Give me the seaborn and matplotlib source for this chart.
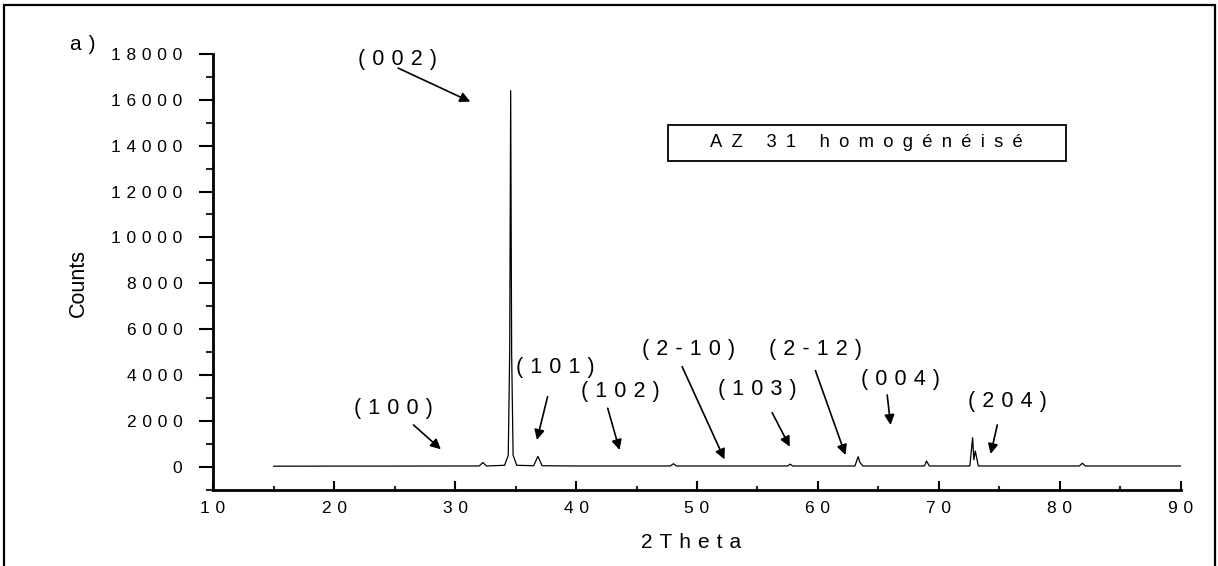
import numpy as np
import pandas as pd
import matplotlib
matplotlib.use("Agg")
import matplotlib.pyplot as plt
from matplotlib.patches import Rectangle
from matplotlib.ticker import FuncFormatter, MultipleLocator
import seaborn as sns

# ---- data ----
two_theta = [15.0, 20.0, 25.0, 30.0, 32.0, 32.3, 32.6,
             34.1, 34.4, 34.52, 34.6, 34.68, 34.8, 35.1,
             36.5, 36.85, 37.2, 40.0, 47.8, 48.05, 48.3,
             55.0, 57.5, 57.7, 57.9, 63.05, 63.32, 63.45, 63.7,
             68.8, 68.97, 69.2, 72.55, 72.78, 72.88, 73.0, 73.25,
             81.6, 81.85, 82.1, 90.0]
counts = [20, 25, 25, 30, 30, 180, 30,
          60, 500, 5000, 16400, 5000, 500, 60,
          40, 450, 40, 30, 30, 130, 30,
          30, 30, 110, 30, 30, 436, 200, 30,
          30, 250, 30, 30, 1265, 300, 685, 30,
          30, 150, 30, 30]

peak_labels = ["(002)", "(100)", "(101)", "(102)", "(2-10)",
               "(103)", "(2-12)", "(004)", "(204)"]

x_ticks = [10, 20, 30, 40, 50, 60, 70, 80, 90]
y_ticks = [0, 2000, 4000, 6000, 8000, 10000, 12000, 14000, 16000, 18000]

x_label = "2Theta"
y_label = "Counts"
box_text = "AZ 31 homogénéisé"
panel_text = "a)"

# ---- styling ----
sns.set_theme(style="ticks")
plt.rcParams["font.family"] = ["Liberation Sans", "DejaVu Sans"]

EN = "\u2002"
TPE = "\u2004"


def spaced(s, gap):
    return gap.join(list(s))


fig = plt.figure(figsize=(12.18, 5.66), dpi=100)
ax = fig.add_axes([0.1749, 0.1350, 0.9696 - 0.1749, 0.9046 - 0.1350])

df = pd.DataFrame({"two_theta": two_theta, "counts": counts})
sns.lineplot(data=df, x="two_theta", y="counts", ax=ax, color="black",
             linewidth=0.9, sort=False, estimator=None)

ax.set_xlim(10, 90)
ax.set_ylim(-1000, 18000)
ax.set_xticks(x_ticks)
ax.set_yticks(y_ticks)
ax.xaxis.set_minor_locator(MultipleLocator(5))
ax.yaxis.set_minor_locator(MultipleLocator(1000))
ax.xaxis.set_major_formatter(FuncFormatter(lambda v, p: spaced(f"{int(round(v))}", TPE)))
ax.yaxis.set_major_formatter(FuncFormatter(lambda v, p: spaced(f"{int(round(v))}", TPE)))

for side in ["top", "right"]:
    ax.spines[side].set_visible(False)
for side in ["left", "bottom"]:
    ax.spines[side].set_linewidth(2.0)
    ax.spines[side].set_color("black")

ax.tick_params(axis="y", which="major", direction="out", length=10, width=1.5,
               labelsize=12.5, pad=12, colors="black")
ax.tick_params(axis="y", which="minor", direction="out", length=4.8, width=1.5)
ax.tick_params(axis="x", which="major", direction="in", length=6.7, width=1.5,
               labelsize=12.5, pad=8, colors="black")
ax.tick_params(axis="x", which="minor", direction="in", length=3.1, width=1.5)

ax.set_xlabel(spaced(x_label, TPE), fontsize=15, color="black")
ax.xaxis.set_label_coords(0.494, -0.1348)
ax.xaxis.label.set_verticalalignment("baseline")
ax.set_ylabel(y_label, fontsize=15.5, color="black")
ax.yaxis.set_label_coords(-0.139, 0.475)
ax.yaxis.label.set_verticalalignment("center")

# peak annotations: text centre, arrow tail, arrow head (data coords)
ann_layout = [
    ((25.26, 17740), (25.30, 17385), (31.26, 15921)),
    ((24.89, 2547), (26.57, 1819), (28.83, 759)),
    ((38.33, 4305), (37.65, 3053), (36.77, 1165)),
    ((43.66, 3272), (42.62, 2547), (43.60, 728)),
    ((49.33, 5090), (48.77, 4362), (52.27, 321)),
    ((55.00, 3346), (56.21, 2355), (57.67, 872)),
    ((59.80, 5121), (59.79, 4188), (62.27, 510)),
    ((66.82, 3782), (65.72, 3128), (66.00, 1819)),
    ((75.67, 2824), (74.82, 1819), (74.27, 554)),
]
for lab, (tpos, tail, head) in zip(peak_labels, ann_layout):
    ax.text(tpos[0], tpos[1], spaced(lab, TPE), fontsize=15.5, ha="center",
            va="center", color="black", clip_on=False)
    ax.annotate("", xy=head, xytext=tail,
                arrowprops=dict(arrowstyle="-|>", color="black", lw=1.2,
                                mutation_scale=15, shrinkA=0, shrinkB=0))

# legend-like box
ax.add_patch(Rectangle((0.470, 0.755), 0.881 - 0.470, 0.837 - 0.755,
                       transform=ax.transAxes, fill=False, edgecolor="black",
                       linewidth=1.3, clip_on=False))
ax.text((0.470 + 0.881) / 2, (0.755 + 0.837) / 2, spaced(box_text, EN),
        transform=ax.transAxes, fontsize=13.2, ha="center", va="center",
        color="black")

# panel label
fig.text(70 / 1218, 1 - 50 / 566, spaced(panel_text, TPE), fontsize=15,
         ha="left", va="baseline", color="black")

# figure frame
fig.patches.append(Rectangle((4 / 1218, -0.05), (1215 - 4) / 1218, 0.991 + 0.05,
                             transform=fig.transFigure, fill=False,
                             edgecolor="black", linewidth=1.6))

fig.savefig("out.png", dpi=100, facecolor="white")
